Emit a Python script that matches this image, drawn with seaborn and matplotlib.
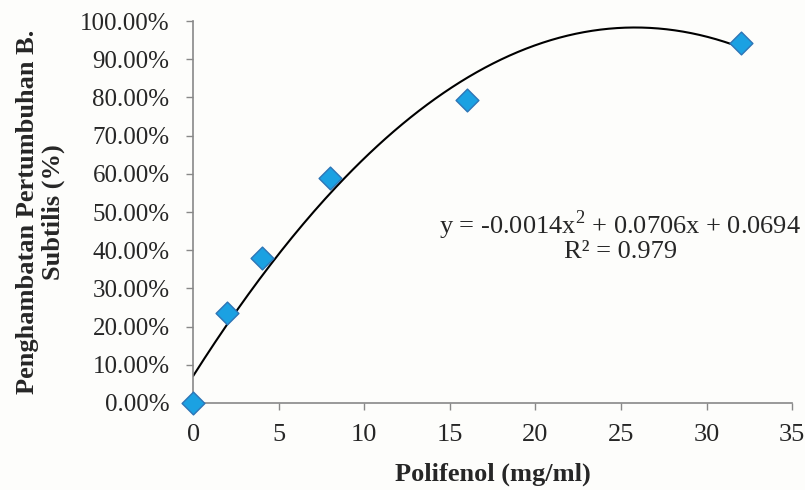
import numpy as np
import pandas as pd
import seaborn as sns
import matplotlib.pyplot as plt
from matplotlib.ticker import PercentFormatter

# data
polifenol = [0, 2, 4, 8, 16, 32]
penghambatan = [0.0, 0.236, 0.38, 0.589, 0.793, 0.942]

eq_line = "y = -0.0014x$^2$ + 0.0706x + 0.0694"
r2_line = "R\u00b2 = 0.979"
x_label = "Polifenol (mg/ml)"
y_label = "Penghambatan Pertumbuhan B.\nSubtilis (%)"

sns.set_style("white")
plt.rcParams['font.family'] = ['Liberation Serif', 'DejaVu Serif']
plt.rcParams['mathtext.fontset'] = 'custom'
plt.rcParams['mathtext.rm'] = 'Liberation Serif'

df = pd.DataFrame({'x': polifenol, 'y': penghambatan})

fig = plt.figure(figsize=(8.05, 4.9), dpi=100)
fig.patch.set_facecolor('#fdfdfb')
ax = fig.add_axes([0.24, 0.1776, 0.744, 0.7794])
ax.set_facecolor('#fdfdfb')

# polynomial (order 2) trendline
coef = np.polyfit(df['x'], df['y'], 2)
xs = np.linspace(0, 32, 200)
ax.plot(xs, np.polyval(coef, xs), color='black', lw=1.5, zorder=2)

sns.scatterplot(data=df, x='x', y='y', marker='D', s=135, color='#1ba1e2',
                edgecolor='#2e75b6', linewidth=1.0, ax=ax, zorder=3, clip_on=False)

ax.set_xlim(0, 35)
ax.set_ylim(0, 1.0)
ax.set_xticks(range(0, 36, 5))
ax.set_yticks(np.arange(0, 1.01, 0.1))
ax.yaxis.set_major_formatter(PercentFormatter(1.0, decimals=2))
ax.tick_params(axis='both', length=5, width=1, color='#888888',
               direction='out', bottom=True, left=True)
ax.tick_params(axis='x', labelsize=19, pad=10)
ax.tick_params(axis='y', labelsize=18, pad=12)

for side in ['top', 'right']:
    ax.spines[side].set_visible(False)
for side in ['left', 'bottom']:
    ax.spines[side].set_color('#888888')
    ax.spines[side].set_linewidth(1.2)

ax.set_xlabel(x_label, fontsize=19, fontweight='bold', va='center')
ax.xaxis.set_label_coords(0.5, -0.188)
ax.set_ylabel(y_label, fontsize=19, fontweight='bold', va='center',
              linespacing=1.15)
ax.yaxis.set_label_coords(-0.255, 0.5)

ax.text(24.95, 0.466, eq_line, fontsize=19, ha='center', va='center')
ax.text(24.95, 0.395, r2_line, fontsize=19, ha='center', va='center')

fig.savefig('out.png', dpi=100, facecolor=fig.get_facecolor())
